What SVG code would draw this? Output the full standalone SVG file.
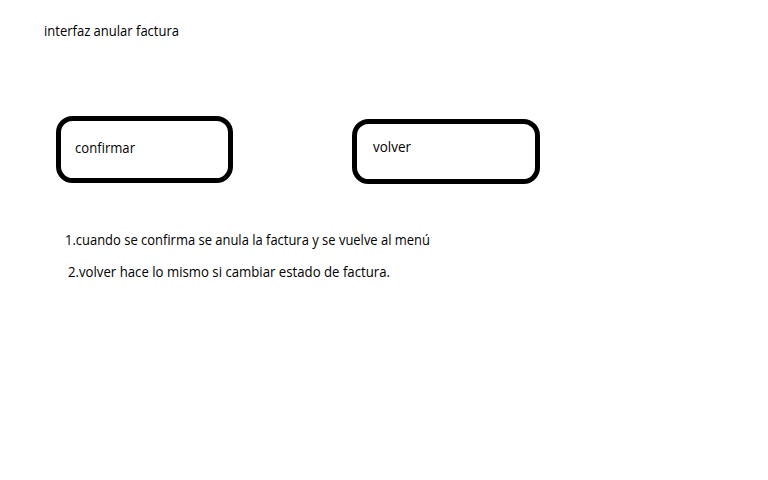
<svg xmlns="http://www.w3.org/2000/svg" width="768" height="480" viewBox="0 0 768 480">
<style>
text{font-family:"Open Sans","Liberation Sans",sans-serif;font-size:14px;fill:#000}
.box{fill:#fff;stroke:#000;stroke-width:5}
</style>
<rect width="768" height="480" fill="#fff"/>
<text x="44" y="36" textLength="135" lengthAdjust="spacingAndGlyphs">interfaz anular factura</text>
<g id="confirmar">
<rect class="box" x="58.5" y="118.5" width="172" height="62" rx="14"/>
<text x="75" y="153" textLength="60" lengthAdjust="spacingAndGlyphs">confirmar</text>
</g>
<g id="volver">
<rect class="box" x="354.5" y="121.5" width="183" height="60" rx="14"/>
<text x="373" y="152" textLength="38" lengthAdjust="spacingAndGlyphs">volver</text>
</g>
<g id="connectors"/>
<text x="65" y="245" textLength="365" lengthAdjust="spacingAndGlyphs">1.cuando se confirma se anula la factura y se vuelve al menú</text>
<text x="68" y="277" textLength="322" lengthAdjust="spacingAndGlyphs">2.volver hace lo mismo si cambiar estado de factura.</text>
</svg>
